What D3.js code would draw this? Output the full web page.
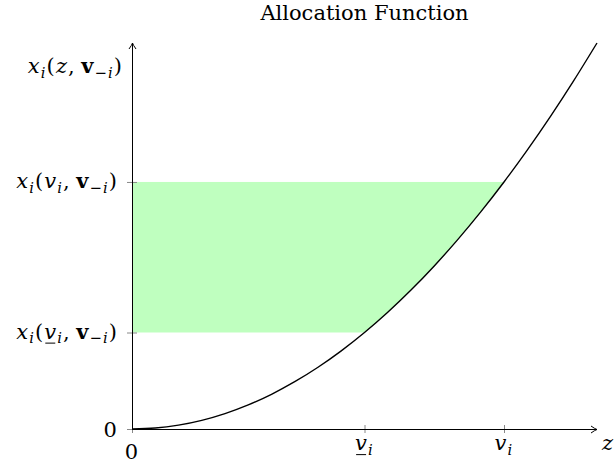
<!DOCTYPE html>
<html>
<head>
<meta charset="utf-8">
<script src="https://cdn.jsdelivr.net/npm/d3@7"></script>
<style>
  body { margin: 0; background: #fff; }
  text { font-family: "DejaVu Serif", serif; fill: #000; }
</style>
</head>
<body>
<svg id="chart" width="615" height="470"></svg>
<script>
// values
const curveZ = [0, 0.05, 0.1, 0.15, 0.2, 0.25, 0.3, 0.35, 0.4, 0.45, 0.5, 0.55, 0.6, 0.65, 0.7, 0.75, 0.8, 0.85, 0.9, 0.95, 1];
const curveX = [0, 0.0025, 0.01, 0.0225, 0.04, 0.0625, 0.09, 0.1225, 0.16, 0.2025, 0.25, 0.3025, 0.36, 0.4225, 0.49, 0.5625, 0.64, 0.7225, 0.81, 0.9025, 1];
const xTickVals = [0, 0.5, 0.8];
const yTickVals = [0, 0.25, 0.64];
// label pieces: [text, style]  i=italic r=roman b=bold s*=subscript u=underlined
const xTickLabels = [
  [["0", "r"]],
  [["v", "iu"], ["i", "si"]],
  [["v", "i"], ["i", "si"]]
];
const yTickLabels = [
  [["0", "r"]],
  [["x", "i"], ["i", "si"], ["(", "r"], ["v", "iu"], ["i", "si"], [",\u2009", "r"], ["v", "b"], ["\u2212", "sr"], ["i", "si"], [")", "r"]],
  [["x", "i"], ["i", "si"], ["(", "r"], ["v", "i"], ["i", "si"], [",\u2009", "r"], ["v", "b"], ["\u2212", "sr"], ["i", "si"], [")", "r"]]
];
const yAxisLabel = [["x", "i"], ["i", "si"], ["(", "r"], ["z", "i"], [",\u2009", "r"], ["v", "b"], ["\u2212", "sr"], ["i", "si"], [")", "r"]];
const xAxisLabel = [["z", "i"]];
const bandLow = 0.25, bandHigh = 0.64, bandZ = 0.8;
const title = "Allocation Function";

const svg = d3.select("#chart");
const fs = 21;
const x = d3.scaleLinear().domain([0, 1]).range([132, 597]);
const y = d3.scaleLinear().domain([0, 1]).range([429, 43]);

function mathText(parent, parts, size) {
  const t = parent.append("text").attr("font-size", size).attr("letter-spacing", 1.1);
  let off = 0;
  parts.forEach(([s, st]) => {
    const sub = st.startsWith("s");
    const target = sub ? size * 0.22 : 0;
    const sp = t.append("tspan").text(s)
      .attr("dy", target - off)
      .attr("font-size", sub ? size * 0.7 : size)
      .attr("font-style", st.includes("i") ? "italic" : "normal")
      .attr("font-weight", st.includes("b") ? "bold" : "normal");
    off = target;
    if (st.includes("u")) sp.classed("ul", true);
  });
  return t;
}
function underline(t, base, size) {
  t.selectAll("tspan.ul").each(function() {
    const b = this.getBBox();
    svg.append("line")
      .attr("x1", b.x + 1).attr("x2", b.x + b.width - 2)
      .attr("y1", base + size * 0.22).attr("y2", base + size * 0.22)
      .attr("stroke", "#000").attr("stroke-width", 1);
  });
}

const pts = curveZ.map((z, i) => [z, curveX[i]]);
const line = d3.line().x(d => x(d[0])).y(d => y(d[1])).curve(d3.curveNatural);

// green band, clipped to the region left of the curve
svg.append("clipPath").attr("id", "leftOfCurve")
  .append("path").attr("d", line(pts) + `L${x(0)},${y(1)}Z`);
svg.append("rect")
  .attr("x", x(0)).attr("y", y(bandHigh))
  .attr("width", x(bandZ) - x(0)).attr("height", y(bandLow) - y(bandHigh))
  .attr("fill", "#bfffbf")
  .attr("clip-path", "url(#leftOfCurve)");

// ticks
const gx = svg.append("g").attr("transform", `translate(0,${y(0)})`)
  .call(d3.axisBottom(x).tickValues(xTickVals).tickSize(4).tickFormat(""));
gx.select(".domain").remove();
gx.selectAll(".tick line").attr("y1", -4).attr("stroke", "#888");

const gy = svg.append("g").attr("transform", `translate(${x(0)},0)`)
  .call(d3.axisLeft(y).tickValues(yTickVals).tickSize(5).tickFormat(""));
gy.select(".domain").remove();
gy.selectAll(".tick line").attr("x1", 5).attr("stroke", "#888");

// axis lines with arrows
const ax = x(0) + 0.5, ay = y(0) + 0.5;
svg.append("path")
  .attr("d", `M${ax},${ay}H${x(1)}M${x(1) - 6},${ay - 3.5}Q${x(1) - 2},${ay - 0.6} ${x(1)},${ay}Q${x(1) - 2},${ay + 0.6} ${x(1) - 6},${ay + 3.5}`)
  .attr("fill", "none").attr("stroke", "#000").attr("stroke-width", 1);
svg.append("path")
  .attr("d", `M${ax},${ay}V${y(1)}M${ax - 3.5},${y(1) + 6}Q${ax - 0.6},${y(1) + 2} ${ax},${y(1)}Q${ax + 0.6},${y(1) + 2} ${ax + 3.5},${y(1) + 6}`)
  .attr("fill", "none").attr("stroke", "#000").attr("stroke-width", 1);

// curve
svg.append("path").attr("d", line(pts))
  .attr("fill", "none").attr("stroke", "#000").attr("stroke-width", 1.4);

// tick labels
xTickVals.forEach((v, i) => {
  const base = i === 0 ? 459 : 450;
  const t = mathText(svg, xTickLabels[i], fs)
    .attr("x", x(v)).attr("y", base).attr("text-anchor", "middle");
  underline(t, base, fs);
});
yTickVals.forEach((v, i) => {
  const base = y(v) + (i === 0 ? 8 : 6);
  const t = mathText(svg, yTickLabels[i], fs)
    .attr("x", 118).attr("y", base).attr("text-anchor", "end");
  underline(t, base, fs);
});

// axis labels
mathText(svg, yAxisLabel, fs).attr("x", 123).attr("y", 73).attr("text-anchor", "end");
mathText(svg, xAxisLabel, fs).attr("x", 602).attr("y", 450);

// title
svg.append("text").attr("x", (x(0) + x(1)) / 2).attr("y", 20)
  .attr("text-anchor", "middle").attr("font-size", 21).text(title);
</script>
</body>
</html>
